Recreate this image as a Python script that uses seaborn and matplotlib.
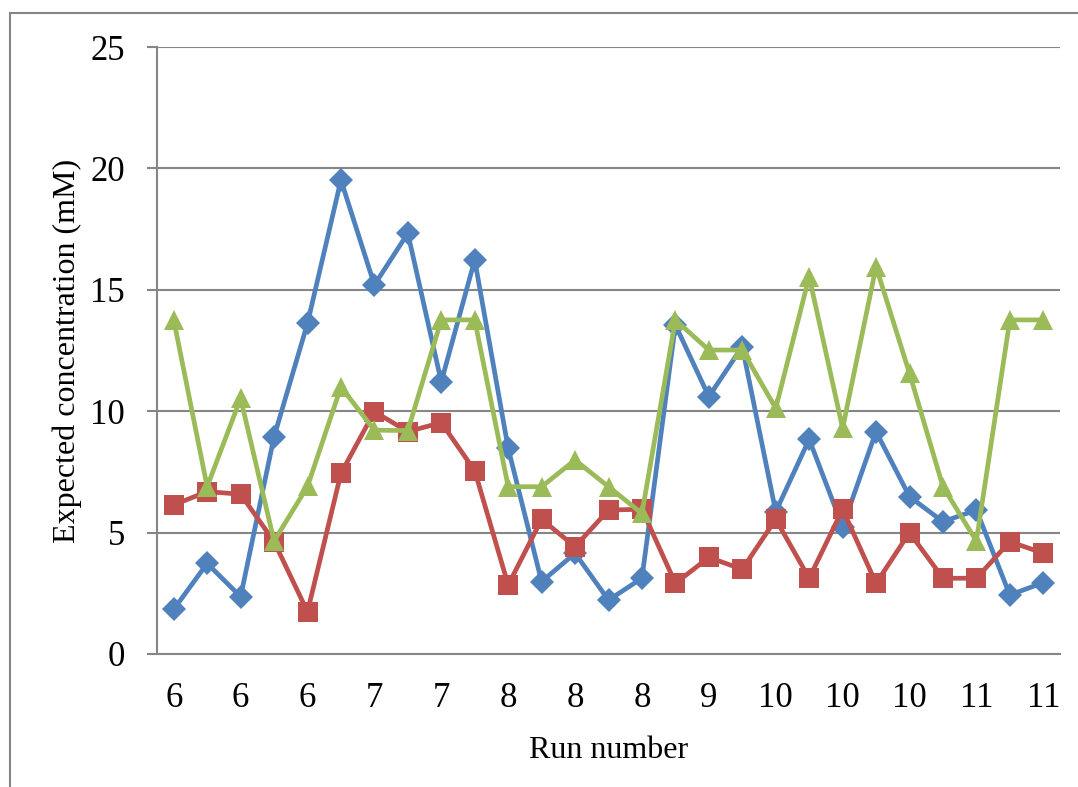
import numpy as np
import pandas as pd
import matplotlib
matplotlib.use("Agg")
import matplotlib.pyplot as plt
import seaborn as sns
from matplotlib.patches import Rectangle

# ---- data ----
run_numbers = [6, 6, 6, 6, 6, 7, 6, 7, 7, 7, 7, 8, 8, 8, 8, 8, 8, 9, 9, 10,
               10, 10, 10, 10, 11, 11, 11]
tick_labels = ["6", "6", "6", "7", "7", "8", "8", "8", "9", "10", "10", "10", "11", "11"]

series_a = [1.84, 3.73, 2.36, 8.95, 13.62, 19.52, 15.20, 17.33, 11.21, 16.23,
            8.47, 2.98, 4.15, 2.22, 3.12, 13.55, 10.60, 12.66, 5.86, 8.84,
            5.24, 9.16, 6.48, 5.45, 5.93, 2.43, 2.94]
series_b = [6.14, 6.69, 6.58, 4.63, 1.74, 7.44, 9.98, 9.16, 9.53, 7.55,
            2.84, 5.55, 4.42, 5.93, 5.96, 2.91, 3.98, 3.49, 5.55, 3.12,
            5.96, 2.91, 5.00, 3.12, 3.12, 4.63, 4.15]
series_c = [13.76, 6.89, 10.53, 4.65, 6.90, 11.00, 9.22, 9.20, 13.76, 13.76,
            6.89, 6.89, 7.99, 6.89, 5.79, 13.76, 12.52, 12.52, 10.12, 15.54,
            9.30, 15.95, 11.56, 6.89, 4.65, 13.76, 13.76]

series_names = ["A", "B", "C"]
colors = ["#4F81BD", "#C0504D", "#9BBB59"]
markers = ["D", "s", "^"]
marker_sizes = [12, 15, 15]

# ---- build long-form table ----
n = len(run_numbers)
pos = np.arange(n)
frames = []
for name, vals in zip(series_names, [series_a, series_b, series_c]):
    frames.append(pd.DataFrame({"pos": pos, "value": vals, "series": name}))
df = pd.concat(frames, ignore_index=True)

sns.set_style("white")
plt.rcParams["font.family"] = ["Liberation Serif", "DejaVu Serif"]
plt.rcParams["text.color"] = "black"
plt.rcParams["axes.labelcolor"] = "black"
plt.rcParams["xtick.color"] = "black"
plt.rcParams["ytick.color"] = "black"

fig = plt.figure(figsize=(10.78, 7.87), dpi=100)
ax = fig.add_axes([157 / 1078, 1 - 654 / 787, (1060 - 157) / 1078, (654 - 47) / 787])

for name, col, mk, ms in zip(series_names, colors, markers, marker_sizes):
    sub = df[df["series"] == name]
    sns.lineplot(data=sub, x="pos", y="value", ax=ax, color=col, linewidth=3.4,
                 marker=mk, markersize=ms, markeredgecolor=col, markeredgewidth=0,
                 legend=False, zorder=3)

grid_col = "#868686"
ax.set_xlim(-0.5, n - 0.5)
ax.set_ylim(0, 25)
ax.set_yticks([0, 5, 10, 15, 20, 25])
ax.yaxis.grid(True, color=grid_col, linewidth=1.5)
ax.xaxis.grid(False)
for s in ["top", "right"]:
    ax.spines[s].set_visible(False)
for s in ["left", "bottom"]:
    ax.spines[s].set_color(grid_col)
    ax.spines[s].set_linewidth(1.5)

ax.set_xticks(pos[::2])
ax.set_xticklabels(tick_labels)
ax.set_xticks(np.arange(n + 1) - 0.5, minor=True)
ax.tick_params(axis="x", which="major", length=0, pad=20, labelsize=25, labelcolor="black")
ax.tick_params(axis="x", which="minor", length=7, width=1.5, color=grid_col, direction="out")
ax.tick_params(axis="y", which="major", length=7, width=1.5, color=grid_col,
               direction="out", pad=16, labelsize=25, labelcolor="black")
ax.tick_params(left=True, bottom=True)

ax.set_xlabel("Run number", fontsize=23, labelpad=15, color="black")
ax.set_ylabel("Expected concentration (mM)", fontsize=23, labelpad=6, color="black")

# outer chart frame
fig.patches.append(Rectangle((10 / 1078, -0.05), 1.1, 1 - 13 / 787 + 0.05,
                             transform=fig.transFigure, fill=False,
                             edgecolor=grid_col, linewidth=1.5))

fig.savefig("out.png", dpi=100)
